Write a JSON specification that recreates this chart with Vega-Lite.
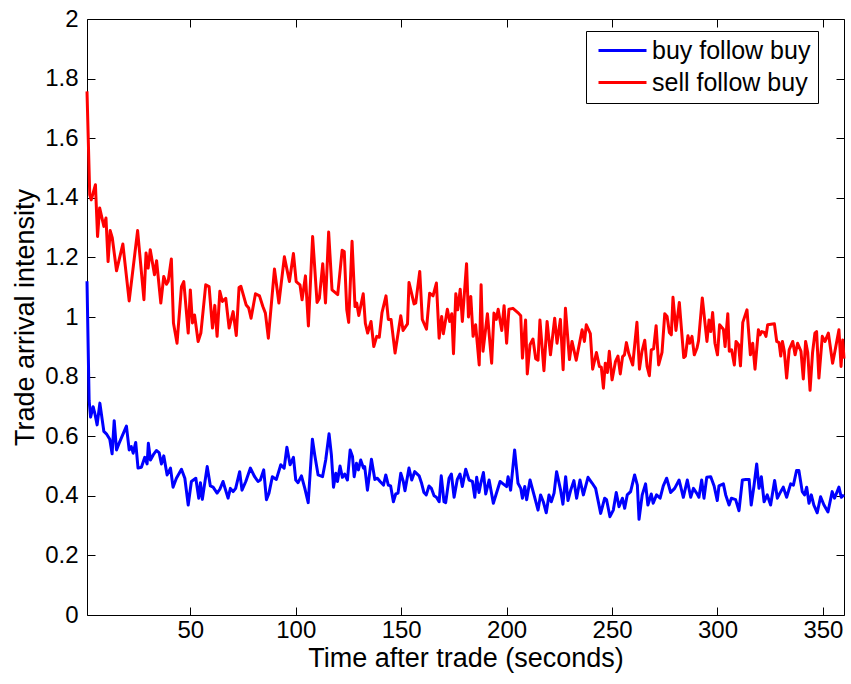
{
  "$schema": "https://vega.github.io/schema/vega-lite/v6.json",
  "width": 757,
  "height": 596,
  "autosize": {"type": "none"},
  "padding": {"left": 87, "top": 19, "right": 7, "bottom": 69},
  "background": "white",
  "config": {
    "view": {"stroke": null},
    "font": "Liberation Sans",
    "axis": {
      "domainColor": "black",
      "tickColor": "black",
      "labelColor": "black",
      "titleColor": "black",
      "grid": false,
      "labelFont": "Liberation Sans",
      "titleFont": "Liberation Sans",
      "labelFontSize": 24,
      "titleFontSize": 27,
      "titleFontWeight": "normal"
    }
  },
  "datasets": {
    "buy": [
      [1,1.12],[2,0.72],[2.7,0.664],[3.9,0.699],[4.7,0.677],[5.8,0.638],[7.1,0.711],[9,0.616],[10.2,0.608],[11.8,0.59],[12.9,0.541],[13.9,0.652],[15,0.554],[16.2,0.576],[19.7,0.634],[21,0.554],[22,0.565],[22.9,0.543],[24.1,0.579],[25.2,0.493],[26.8,0.496],[28.4,0.529],[29.5,0.507],[30.1,0.576],[31.1,0.52],[32.4,0.537],[33.9,0.552],[35.2,0.545],[36.3,0.507],[37.4,0.534],[39,0.47],[40.6,0.493],[41.8,0.429],[43.4,0.459],[45.8,0.489],[47.4,0.459],[49,0.369],[50.5,0.448],[52.6,0.459],[54,0.392],[54.8,0.444],[55.7,0.388],[58,0.498],[59.5,0.433],[60.8,0.429],[62.7,0.409],[64,0.422],[65.5,0.448],[67.9,0.392],[69,0.425],[70.3,0.414],[71.5,0.425],[73.4,0.481],[74.5,0.419],[76.3,0.448],[78.5,0.493],[80.5,0.464],[82.1,0.448],[83.2,0.453],[84.8,0.487],[86.1,0.387],[87.3,0.409],[88.9,0.464],[90.8,0.455],[92.9,0.504],[94.5,0.493],[95.8,0.563],[97.3,0.504],[98.9,0.529],[100,0.453],[101.1,0.444],[102.7,0.467],[104.3,0.425],[105.9,0.377],[107.9,0.59],[109,0.537],[110.6,0.47],[112.7,0.464],[114.2,0.52],[115.8,0.608],[116.9,0.537],[117.9,0.429],[119,0.476],[119.8,0.448],[121,0.5],[122.1,0.462],[123.2,0.473],[124.5,0.453],[125.8,0.554],[126.9,0.532],[127.7,0.464],[128.8,0.509],[129.7,0.487],[130.8,0.52],[132.1,0.493],[132.7,0.498],[134,0.419],[135.9,0.523],[137.5,0.455],[138.7,0.459],[140,0.448],[141.6,0.436],[142.7,0.47],[143.9,0.436],[145,0.433],[146.3,0.38],[147.4,0.406],[148.5,0.409],[149.8,0.476],[151,0.448],[151.8,0.417],[153.7,0.493],[155,0.453],[156.4,0.481],[158.5,0.467],[159.6,0.444],[160.8,0.411],[161.9,0.403],[163.2,0.433],[164.3,0.425],[165.6,0.4],[166.7,0.395],[168,0.38],[169,0.467],[170.3,0.38],[171.1,0.377],[172.7,0.459],[173.8,0.473],[175.1,0.395],[176.6,0.455],[177.9,0.473],[179,0.431],[180.6,0.489],[182.2,0.453],[183.8,0.448],[184.9,0.395],[185.8,0.462],[186.9,0.411],[187.7,0.44],[189,0.478],[190.1,0.406],[191.7,0.453],[193.7,0.375],[196.9,0.448],[199.1,0.436],[200,0.431],[200.7,0.464],[201.9,0.419],[203.8,0.554],[205.4,0.442],[206.7,0.425],[207.5,0.392],[208.6,0.431],[209.5,0.387],[211.1,0.453],[213,0.403],[214.9,0.352],[216.1,0.403],[217.4,0.38],[218.8,0.343],[220.1,0.403],[221.2,0.38],[222.5,0.409],[223.7,0.481],[225.6,0.419],[226.7,0.372],[228,0.464],[229.1,0.384],[230.4,0.419],[231.9,0.451],[233.2,0.392],[234.8,0.453],[236.4,0.403],[238.6,0.462],[240.6,0.442],[242.2,0.425],[244.6,0.341],[246.5,0.392],[247.4,0.387],[249,0.33],[250.6,0.352],[252,0.411],[253.3,0.363],[254.9,0.392],[256,0.358],[257.2,0.403],[258.8,0.414],[260.7,0.47],[262,0.436],[262.8,0.321],[264.3,0.403],[265.9,0.44],[267,0.369],[268.6,0.406],[269.5,0.375],[271.1,0.403],[272.8,0.392],[274.3,0.433],[275.9,0.459],[277.8,0.411],[279.7,0.425],[281.8,0.453],[283.8,0.395],[285.7,0.453],[287.3,0.395],[288.6,0.425],[290.1,0.409],[291.2,0.395],[292.5,0.453],[293.6,0.392],[294.9,0.462],[296.8,0.464],[298.4,0.433],[299.9,0.384],[300.7,0.433],[302.8,0.44],[303.9,0.403],[305.5,0.369],[306.6,0.392],[308.6,0.387],[310.2,0.35],[311.8,0.453],[313.4,0.455],[315,0.455],[316,0.369],[317.3,0.433],[318.6,0.507],[319.7,0.425],[320.8,0.464],[322.1,0.38],[323.6,0.403],[325.2,0.369],[327.1,0.451],[328.4,0.392],[329.6,0.409],[331.2,0.429],[332.8,0.395],[334.7,0.44],[336,0.436],[337.5,0.485],[338.6,0.485],[340.2,0.414],[341.3,0.403],[342.3,0.429],[343.4,0.375],[344.5,0.403],[345.7,0.369],[347.3,0.343],[348.9,0.397],[350.5,0.369],[352.4,0.346],[354.4,0.414],[355.5,0.392],[357.6,0.429],[358.7,0.395],[360,0.403]
    ],
    "sell": [
      [1,1.757],[2.3,1.41],[3,1.393],[5,1.444],[6,1.27],[7,1.366],[9,1.304],[10,1.332],[11,1.186],[12,1.29],[13,1.265],[15,1.155],[18,1.245],[21,1.054],[25,1.29],[28,1.058],[29,1.215],[30,1.164],[31,1.226],[33,1.142],[34,1.189],[36,1.047],[37.4,1.136],[38.7,1.11],[39.5,1.119],[41,1.195],[42,0.98],[43.7,0.912],[45.8,1.102],[46.9,1.119],[49,0.946],[50,1.091],[51,0.98],[52,1.007],[53.7,0.918],[55,0.946],[57.3,1.108],[58.9,1.102],[60.5,0.963],[61.6,1.039],[62.7,0.935],[64,1.086],[65.2,1.052],[66.8,1.063],[68.4,0.963],[70.3,1.018],[71.8,0.938],[73.1,1.099],[74,1.103],[76.5,1.04],[77.7,1.03],[78.8,0.996],[80.9,1.078],[82.8,1.071],[84.4,1.035],[85.6,1.013],[87,0.929],[89.9,1.161],[92,1.047],[94.6,1.202],[97,1.119],[98.9,1.213],[100.2,1.119],[102,1.108],[103,1.058],[104.6,1.138],[106,0.97],[108,1.27],[110.1,1.049],[111.2,1.063],[112.8,1.179],[114.1,1.047],[115.6,1.285],[117.2,1.091],[119.9,1.075],[122,1.224],[123,1.22],[124.2,1.024],[125.1,0.982],[126.7,1.254],[128.1,1.035],[128.9,1.047],[129.9,1.005],[132,1.078],[133,0.979],[134.1,0.946],[135.7,0.985],[137,0.901],[138.4,0.935],[139.6,0.932],[140.9,1.015],[142.8,1.071],[143.9,0.992],[145.2,0.992],[145.9,0.95],[147.1,0.879],[149.8,1.004],[150.9,0.955],[153,0.977],[153.7,1.116],[156.1,1.044],[156.9,1.047],[158.8,1.153],[160,0.992],[162,0.959],[163.5,1.08],[165.1,1.071],[166.7,1.114],[168,0.929],[169.2,1.002],[170,0.944],[171.9,1.026],[173,0.985],[174,1.011],[174.8,0.877],[175.9,1.078],[176.8,1.024],[178,1.093],[179,0.985],[181,1.179],[181.9,1.0],[183,1.069],[184.1,0.935],[185.3,0.974],[187,0.839],[187.9,1.108],[188.8,0.885],[190.9,1.011],[192.9,0.845],[194,1.013],[195.1,0.992],[196,1.026],[197.7,0.955],[198.8,1.038],[200,0.912],[201.1,1.026],[203,1.029],[205.6,1.013],[206.7,1.004],[207.5,0.862],[209,0.99],[209.8,0.809],[211.1,0.907],[212.5,0.926],[213.8,0.86],[214.9,0.855],[215.8,0.99],[217.7,0.82],[219.2,0.985],[220.8,0.873],[222.8,0.996],[223.9,0.912],[225.5,0.992],[226.8,0.823],[227.9,1.029],[229.8,0.857],[231,0.918],[233,0.855],[235.8,0.957],[236.9,0.918],[237.8,0.974],[239.7,0.944],[240.8,0.825],[242.6,0.881],[244,0.834],[244.9,0.832],[245.9,0.761],[246.8,0.845],[247.8,0.814],[248.7,0.885],[250,0.789],[251.6,0.85],[252.8,0.869],[253.9,0.809],[255,0.867],[255.9,0.873],[256.8,0.914],[257.9,0.878],[259.8,0.839],[261.8,0.982],[263,0.825],[264.2,0.885],[265.5,0.922],[266.6,0.834],[267.7,0.803],[268.6,0.89],[269.7,0.893],[270.9,0.971],[272.1,0.839],[273.7,0.881],[275,1.011],[276.1,1.002],[277.2,0.948],[278.1,0.94],[278.9,1.066],[280.3,0.955],[281.9,1.049],[284,0.864],[284.8,0.869],[286,0.937],[286.8,0.912],[287.9,0.935],[289,0.873],[290.3,0.896],[291,0.92],[292.8,1.064],[295,0.918],[296,0.99],[296.8,0.951],[297.7,1.015],[298.8,0.912],[300,0.873],[301,0.974],[302.8,0.959],[303.6,0.901],[304.9,1.011],[305.6,0.885],[306.7,0.89],[308,0.839],[308.8,0.918],[310,0.907],[310.9,0.836],[312,0.982],[314,1.024],[315.6,0.873],[316.7,0.912],[317.8,0.825],[319.4,0.957],[320.2,0.94],[321,0.951],[322.2,0.948],[323,0.935],[323.8,0.974],[327,0.977],[328.1,0.918],[329.2,0.914],[330,0.869],[330.8,0.918],[331.7,0.885],[332.8,0.795],[334,0.89],[335.7,0.918],[336.8,0.873],[338,0.912],[339.6,0.885],[340.7,0.792],[341.8,0.918],[342.8,0.881],[343.9,0.754],[345.1,0.881],[346.2,0.946],[347,0.951],[348.1,0.795],[349.7,0.935],[351,0.918],[352.6,0.946],[354.6,0.845],[355.7,0.885],[357.6,0.957],[358.6,0.834],[359.4,0.923],[360,0.86]
    ]
  },
  "layer": [
    {
      "data": {"name": "buy"},
      "transform": [
        {"calculate": "datum[0]", "as": "t"},
        {"calculate": "datum[1]", "as": "v"},
        {"calculate": "'buy follow buy'", "as": "series"}
      ],
      "mark": {"type": "line", "strokeWidth": 3, "strokeJoin": "round"},
      "encoding": {
        "x": {"field": "t", "type": "quantitative", "scale": {"domain": [1, 360], "nice": false, "zero": false},
          "axis": {"orient": "bottom", "values": [50,100,150,200,250,300,350], "tickSize": -8, "labelPadding": 11, "title": "Time after trade (seconds)", "titlePadding": 3}},
        "y": {"field": "v", "type": "quantitative", "scale": {"domain": [0, 2], "nice": false},
          "axis": {"orient": "left", "values": [0,0.2,0.4,0.6,0.8,1,1.2,1.4,1.6,1.8,2], "format": ".1~f", "tickSize": -8, "labelPadding": 17, "title": "Trade arrival intensity", "titlePadding": 5}},
        "color": {"field": "series", "type": "nominal",
          "scale": {"domain": ["buy follow buy", "sell follow buy"], "range": ["#0000ff", "#ff0000"]},
          "legend": {"orient": "none", "legendX": 499, "legendY": 12, "title": null, "symbolType": "M-2.4,0H2.4", "symbolSize": 400, "symbolStrokeWidth": 3, "symbolOffset": 17, "labelFontSize": 25, "labelFont": "Liberation Sans", "labelColor": "black", "strokeColor": "black", "fillColor": "white", "padding": 7, "rowPadding": 6, "labelOffset": 17}}
      }
    },
    {
      "data": {"name": "sell"},
      "transform": [
        {"calculate": "datum[0]", "as": "t"},
        {"calculate": "datum[1]", "as": "v"},
        {"calculate": "'sell follow buy'", "as": "series"}
      ],
      "mark": {"type": "line", "strokeWidth": 3, "strokeJoin": "round"},
      "encoding": {
        "x": {"field": "t", "type": "quantitative", "axis": null},
        "y": {"field": "v", "type": "quantitative", "axis": null},
        "color": {"field": "series", "type": "nominal"}
      }
    },
    {
      "data": {"name": "sell"},
      "transform": [
        {"calculate": "datum[0]", "as": "t"},
        {"calculate": "datum[1]", "as": "v"}
      ],
      "mark": {"type": "point", "opacity": 0},
      "encoding": {
        "x": {"field": "t", "type": "quantitative",
          "axis": {"orient": "top", "values": [50,100,150,200,250,300,350], "tickSize": -8, "labels": false, "title": null}},
        "y": {"field": "v", "type": "quantitative",
          "axis": {"orient": "right", "values": [0,0.2,0.4,0.6,0.8,1,1.2,1.4,1.6,1.8,2], "tickSize": -8, "labels": false, "title": null}}
      }
    }
  ],
  "resolve": {"axis": {"x": "independent", "y": "independent"}}
}
